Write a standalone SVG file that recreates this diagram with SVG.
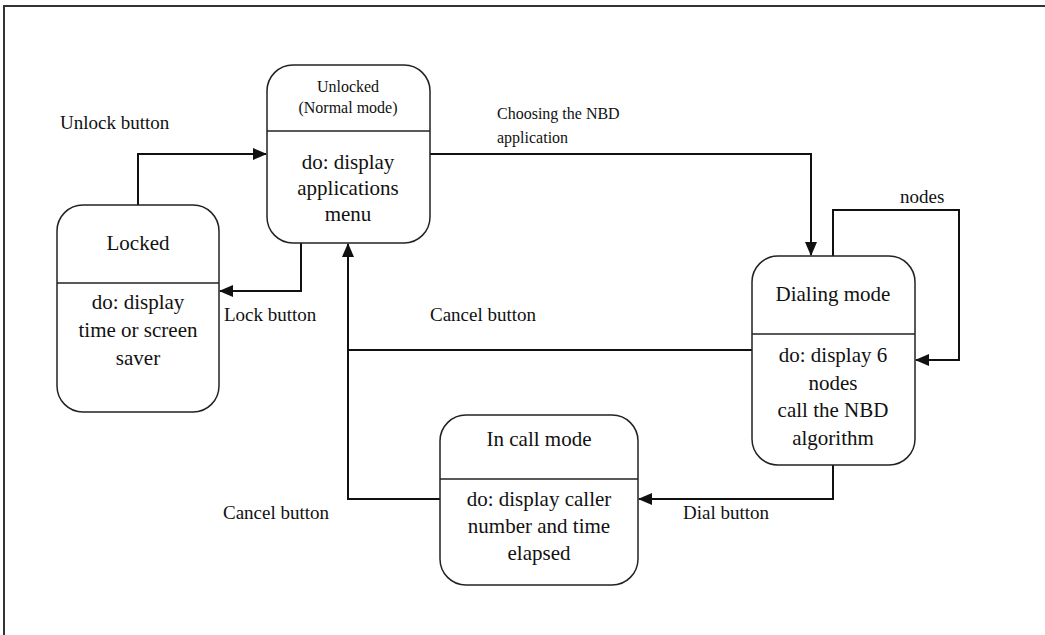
<svg xmlns="http://www.w3.org/2000/svg" width="1045" height="635" viewBox="0 0 1045 635">
  <style>
    .frame { fill: none; stroke: #333; stroke-width: 2; }
    .state { fill: #fff; stroke: #222; stroke-width: 1.5; }
    .div { stroke: #222; stroke-width: 1.5; }
    .edge { fill: none; stroke: #111; stroke-width: 2; }
    text { fill: #111; }
    .big { font-size: 21px; text-anchor: middle; }
    .small { font-size: 16px; text-anchor: middle; }
    .lbl { font-size: 19px; }
    .lbls { font-size: 16px; }
  </style>
  <defs>
    <marker id="arrow" markerWidth="14" markerHeight="14" refX="13" refY="6" orient="auto" markerUnits="userSpaceOnUse" viewBox="0 0 14 12">
      <path d="M0,0 L14,6 L0,12 Z" fill="#111"/>
    </marker>
  </defs>
  <rect width="1045" height="635" fill="#fff"/>
  <path class="frame" d="M4,635 V6 H1045"/>

  <g id="connectors">
    <!-- Unlock button: Locked -> Unlocked -->
    <path class="edge" d="M138,205 V154 H266" marker-end="url(#arrow)"/>
    <!-- Lock button: Unlocked -> Locked -->
    <path class="edge" d="M301,243 V291 H220" marker-end="url(#arrow)"/>
    <!-- Choosing the NBD application: Unlocked -> Dialing -->
    <path class="edge" d="M430,154 H811 V255" marker-end="url(#arrow)"/>
    <!-- nodes: self loop on Dialing -->
    <path class="edge" d="M833,256 V210 H959 V360 H916" marker-end="url(#arrow)"/>
    <!-- Cancel button: Dialing -> Unlocked -->
    <path class="edge" d="M752,350 H348"/>
    <!-- Cancel button: In call -> Unlocked -->
    <path class="edge" d="M440,499 H348 V244" marker-end="url(#arrow)"/>
    <!-- Dial button: Dialing -> In call -->
    <path class="edge" d="M833,465 V499 H639" marker-end="url(#arrow)"/>
  </g>

  <g font-family="Liberation Serif, Times New Roman, DejaVu Serif, serif">
  <g id="unlocked">
    <rect class="state" x="267" y="65" width="163" height="178" rx="26"/>
    <line class="div" x1="267" y1="131" x2="430" y2="131"/>
    <text class="small" x="348" y="92">Unlocked</text>
    <text class="small" x="348" y="113">(Normal mode)</text>
    <text class="big" x="348" y="169">do: display</text>
    <text class="big" x="348" y="195">applications</text>
    <text class="big" x="348" y="221">menu</text>
  </g>

  <g id="locked">
    <rect class="state" x="57" y="205" width="162" height="207" rx="26"/>
    <line class="div" x1="57" y1="283" x2="219" y2="283"/>
    <text class="big" x="138" y="250">Locked</text>
    <text class="big" x="138" y="309">do: display</text>
    <text class="big" x="138" y="337">time or screen</text>
    <text class="big" x="138" y="365">saver</text>
  </g>

  <g id="dialing">
    <rect class="state" x="752" y="256" width="163" height="209" rx="26"/>
    <line class="div" x1="752" y1="334" x2="915" y2="334"/>
    <text class="big" x="833" y="301">Dialing mode</text>
    <text class="big" x="833" y="362">do: display 6</text>
    <text class="big" x="833" y="390">nodes</text>
    <text class="big" x="833" y="417">call the NBD</text>
    <text class="big" x="833" y="445">algorithm</text>
  </g>

  <g id="incall">
    <rect class="state" x="440" y="415" width="198" height="170" rx="26"/>
    <line class="div" x1="440" y1="479" x2="638" y2="479"/>
    <text class="big" x="539" y="446">In call mode</text>
    <text class="big" x="539" y="506">do: display caller</text>
    <text class="big" x="539" y="533">number and time</text>
    <text class="big" x="539" y="560">elapsed</text>
  </g>

  <g id="labels">
    <text class="lbl" x="60" y="129">Unlock button</text>
    <text class="lbls" x="497" y="119">Choosing the NBD</text>
    <text class="lbls" x="497" y="143">application</text>
    <text class="lbl" x="900" y="203">nodes</text>
    <text class="lbl" x="430" y="321">Cancel button</text>
    <text class="lbl" x="224" y="321">Lock button</text>
    <text class="lbl" x="223" y="519">Cancel button</text>
    <text class="lbl" x="683" y="519">Dial button</text>
  </g>
  </g>
</svg>
